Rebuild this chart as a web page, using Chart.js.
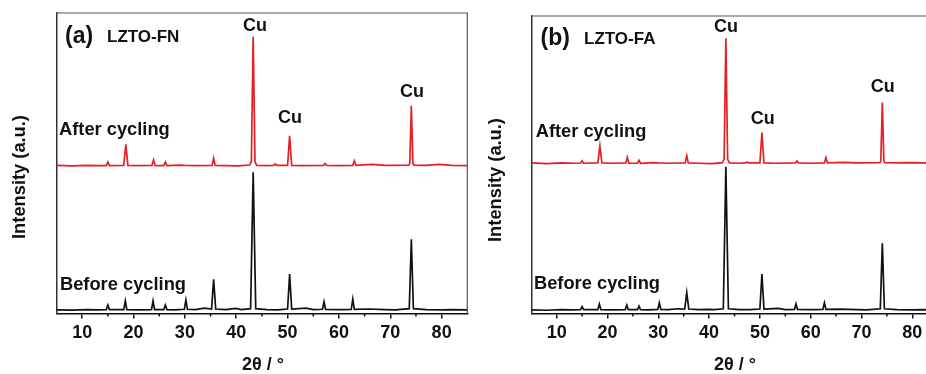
<!DOCTYPE html>
<html>
<head>
<meta charset="utf-8">
<script src="https://cdn.jsdelivr.net/npm/chart.js@4.4.0/dist/chart.umd.min.js"></script>
<style>
  body { margin: 0; background: #fff; overflow: hidden; width: 926px; height: 374px; position: relative; }
  canvas { position: absolute; top: 0; }
</style>
</head>
<body>
<canvas id="fn" width="475" height="374" style="left:0px"></canvas>
<canvas id="fa" width="475" height="374" style="left:470px"></canvas>
<script>
// 2theta range and ticks
const xMin = 5, xMax = 85;
const majorTicks = [10, 20, 30, 40, 50, 60, 70, 80];
const minorTicks = [15, 25, 35, 45, 55, 65, 75];

// LZTO-FN, [2theta, intensity]
const fnAfter = [
  [5,49.3],[8,49.1],[11,49.3],[13.5,49.2],[14.7,49.2],[15,50.4],[15.3,49.2],[18.1,49.3],[18.5,56.3],[18.9,49.3],
  [21,49.2],[23.6,49.3],[23.9,51.1],[24.2,49.2],[25.9,49.2],[26.2,50.4],[26.5,49.2],[29,49.4],[30,49.3],[32,49.2],
  [35.3,49.3],[35.6,51.6],[35.9,49.3],[38,49.2],[40.5,49.1],[42.6,49.4],[42.95,50.5],[43.3,92.1],[43.65,50.5],[44,49.3],
  [46,49.2],[47.3,49.3],[47.6,49.8],[47.9,49.3],[50,49.3],[50.4,59.1],[50.8,49.3],[53,49.2],[57,49.3],[57.3,49.9],
  [57.6,49.3],[60,49.2],[62.7,49.3],[63,50.8],[63.3,49.3],[66.4,49.6],[69,49.3],[73.6,49.4],[73.8,49.9],[74.1,69.1],
  [74.4,49.9],[74.6,49.4],[77,49.3],[79.5,49.6],[82,49.3],[85,49.2]
];
const fnBefore = [
  [5,1.2],[8,1.1],[11,1.3],[13,1.2],[14.7,1.3],[15,2.8],[15.3,1.3],[18.1,1.3],[18.4,4.2],[18.7,1.3],
  [21,1.2],[23.5,1.3],[23.8,4.2],[24.1,1.3],[25.9,1.3],[26.2,2.8],[26.5,1.3],[28,1.2],[29.9,1.4],[30.2,4.5],
  [30.5,1.4],[32,1.3],[33.8,1.8],[35.2,1.5],[35.6,11.4],[36,1.5],[38,1.3],[39.9,1.7],[41,1.3],[42.8,1.6],
  [43.3,47.0],[43.8,1.6],[46,1.3],[48,1.2],[50,1.5],[50.4,13.1],[50.8,1.5],[53.6,1.8],[55,1.3],[56.8,1.4],
  [57.1,3.9],[57.4,1.4],[60,1.3],[62.4,1.4],[62.7,4.8],[63,1.4],[65.9,1.5],[69,1.3],[71,1.2],[73.7,1.6],
  [74.1,24.7],[74.5,1.6],[77,1.3],[80,1.2],[82,1.3],[85,1.2]
];

// LZTO-FA
const faAfter = [
  [5,50.6],[8,50.4],[11,50.6],[13.5,50.5],[14.7,50.5],[15,51.3],[15.3,50.5],[18.1,50.6],[18.5,56.4],[18.9,50.6],
  [21,50.5],[23.6,50.6],[23.9,52.5],[24.2,50.5],[25.9,50.5],[26.2,51.5],[26.5,50.5],[29,50.7],[30,50.6],[32,50.5],
  [35.3,50.6],[35.6,53.0],[35.9,50.6],[38,50.5],[40.5,50.4],[42.6,50.7],[42.95,51.8],[43.3,92.5],[43.65,51.8],[44,50.6],
  [46,50.5],[47.2,50.6],[47.5,50.9],[47.8,50.6],[50,50.6],[50.4,60.8],[50.8,50.6],[53,50.5],[57,50.6],[57.3,51.3],
  [57.6,50.6],[60,50.5],[62.7,50.6],[63,52.4],[63.3,50.6],[66.4,50.8],[69,50.6],[73.6,50.7],[73.8,51.3],[74.1,70.9],
  [74.4,51.3],[74.6,50.7],[77,50.6],[79.5,50.7],[82,50.6],[85,50.5]
];
const faBefore = [
  [5,1.2],[8,1.1],[11,1.3],[13,1.2],[14.7,1.3],[15,2.3],[15.3,1.3],[18.1,1.3],[18.4,3.2],[18.7,1.3],
  [21,1.2],[23.5,1.3],[23.8,2.8],[24.1,1.3],[25.9,1.3],[26.2,2.5],[26.5,1.3],[28,1.2],[29.9,1.4],[30.2,3.6],
  [30.5,1.4],[32,1.3],[33.8,1.6],[35.2,1.5],[35.6,7.0],[36,1.5],[38,1.3],[40,1.4],[41,1.3],[42.8,1.6],
  [43.3,49.3],[43.8,1.6],[46,1.3],[48,1.3],[50,1.5],[50.4,13.3],[50.8,1.5],[53.6,1.7],[55,1.3],[56.8,1.4],
  [57.1,3.2],[57.4,1.4],[60,1.3],[62.4,1.4],[62.7,3.6],[63,1.4],[65.9,1.5],[69,1.3],[71,1.2],[73.7,1.6],
  [74.1,23.6],[74.5,1.6],[77,1.3],[80,1.2],[82,1.3],[85,1.2]
];

const RED = '#e61e26';
const FONT = "'Liberation Sans', Arial, sans-serif";
Chart.defaults.font.family = FONT;

const decorPlugin = {
  id: 'decor',
  beforeDatasetsDraw(chart) {
    const { ctx, chartArea: a } = chart;
    ctx.save();
    ctx.strokeStyle = '#555';
    ctx.lineWidth = 1.2;
    ctx.beginPath();
    ctx.moveTo(a.left, a.top);
    ctx.lineTo(a.right, a.top);
    ctx.lineTo(a.right, a.bottom);
    ctx.stroke();
    // minor ticks
    const xs = chart.scales.x;
    ctx.strokeStyle = '#111';
    ctx.lineWidth = 1.5;
    minorTicks.forEach(v => {
      const px = xs.getPixelForValue(v);
      ctx.beginPath();
      ctx.moveTo(px, a.bottom);
      ctx.lineTo(px, a.bottom + 3);
      ctx.stroke();
    });
    ctx.restore();
  },
  afterDraw(chart, args, opts) {
    const ctx = chart.ctx;
    ctx.save();
    ctx.fillStyle = '#111';
    ctx.textBaseline = 'middle';
    (opts.labels || []).forEach(l => {
      ctx.font = 'bold ' + l.size + 'px ' + FONT;
      ctx.textAlign = l.align || 'left';
      if (l.rot) {
        ctx.save();
        ctx.translate(l.x, l.y);
        ctx.rotate(-Math.PI / 2);
        ctx.textAlign = 'center';
        ctx.fillText(l.text, 0, 0);
        ctx.restore();
      } else {
        ctx.fillText(l.text, l.x, l.y);
      }
    });
    ctx.restore();
  }
};

function makePanel(id, after, before, area, labels) {
  const canvas = document.getElementById(id);
  new Chart(canvas, {
    type: 'line',
    data: {
      datasets: [
        { data: after.map(p => ({ x: p[0], y: p[1] })), borderColor: RED, borderWidth: 1.7, pointRadius: 0, tension: 0 },
        { data: before.map(p => ({ x: p[0], y: p[1] })), borderColor: '#111', borderWidth: 1.7, pointRadius: 0, tension: 0 }
      ]
    },
    options: {
      responsive: false,
      animation: false,
      events: [],
      layout: { padding: { left: 0, right: canvas.width - area.right, top: area.top, bottom: 0 } },
      plugins: {
        legend: { display: false },
        tooltip: { enabled: false },
        decor: { labels: labels }
      },
      scales: {
        x: {
          type: 'linear',
          min: xMin,
          max: xMax,
          afterBuildTicks: s => { s.ticks = majorTicks.map(v => ({ value: v })); },
          afterFit: s => { s.height = canvas.height - area.bottom; },
          grid: { drawOnChartArea: false, drawTicks: true, tickLength: 5, tickColor: '#111', lineWidth: 1.5 },
          border: { display: true, color: '#111', width: 1.5 },
          ticks: { color: '#111', font: { size: 18, weight: 'bold' }, padding: 4, maxRotation: 0 }
        },
        y: {
          min: 0,
          max: 100,
          afterFit: s => { s.width = area.left; },
          grid: { display: false },
          border: { display: true, color: '#333', width: 1.5 },
          ticks: { display: false }
        }
      }
    },
    plugins: [decorPlugin]
  });
}

makePanel('fn', fnAfter, fnBefore, { left: 56.5, right: 467.3, top: 13, bottom: 313.5 }, [
  { text: '(a)', x: 65, y: 37, size: 23 },
  { text: 'LZTO-FN', x: 107, y: 37, size: 17 },
  { text: 'Cu', x: 255, y: 26, size: 18, align: 'center' },
  { text: 'Cu', x: 290, y: 118, size: 18, align: 'center' },
  { text: 'Cu', x: 412, y: 92, size: 18, align: 'center' },
  { text: 'After cycling', x: 59, y: 130, size: 18.3 },
  { text: 'Before cycling', x: 60, y: 285, size: 18.3 },
  { text: 'Intensity (a.u.)', x: 20, y: 177, size: 18.3, rot: true },
  { text: '2θ / °', x: 263, y: 365, size: 18, align: 'center' }
]);

makePanel('fa', faAfter, faBefore, { left: 61.3, right: 467.7, top: 16, bottom: 313.5 }, [
  { text: '(b)', x: 70.5, y: 39, size: 23 },
  { text: 'LZTO-FA', x: 114, y: 39, size: 17 },
  { text: 'Cu', x: 256, y: 27, size: 18, align: 'center' },
  { text: 'Cu', x: 292.7, y: 119, size: 18, align: 'center' },
  { text: 'Cu', x: 412.7, y: 87, size: 18, align: 'center' },
  { text: 'After cycling', x: 65.7, y: 132, size: 18.3 },
  { text: 'Before cycling', x: 64, y: 284, size: 18.3 },
  { text: 'Intensity (a.u.)', x: 26, y: 180, size: 18.3, rot: true },
  { text: '2θ / °', x: 265, y: 365, size: 18, align: 'center' }
]);
</script>
</body>
</html>
